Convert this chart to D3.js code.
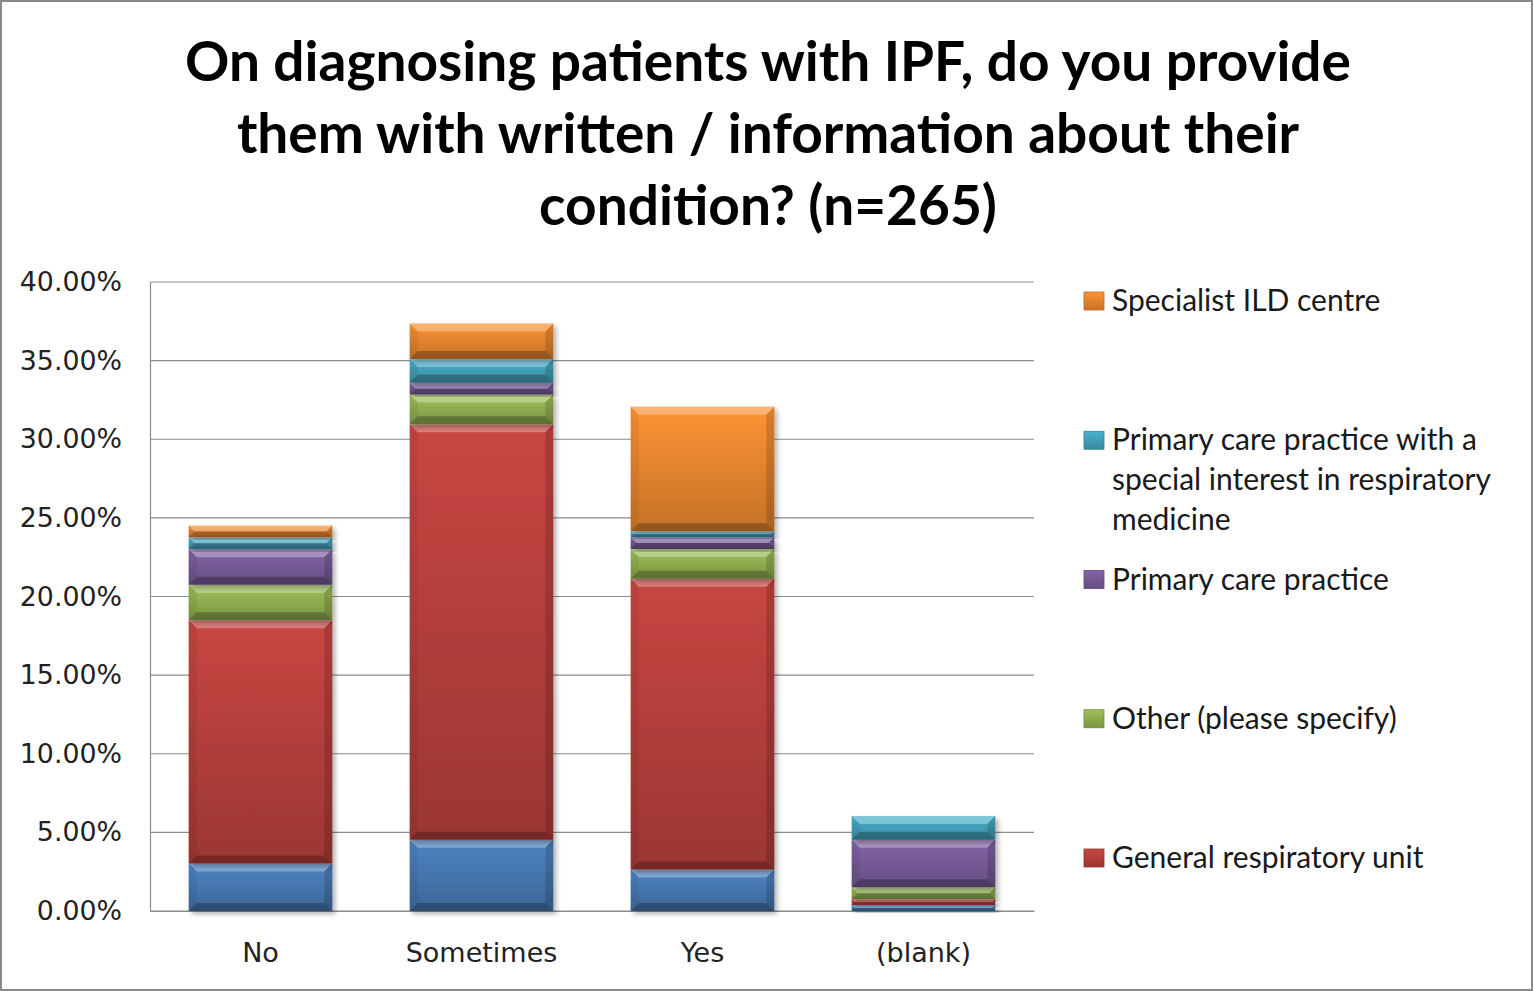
<!DOCTYPE html>
<html>
<head>
<meta charset="utf-8">
<script src="https://cdn.jsdelivr.net/npm/d3@7"></script>
<style>
  body { margin: 0; background: #fff; }
</style>
</head>
<body>
<script>
// Survey responses, % of n=265
let categories = ["No", "Sometimes", "Yes", "(blank)"];
let seriesNames = ["(blank)", "General respiratory unit", "Other (please specify)",
  "Primary care practice", "Primary care practice with a special interest in respiratory medicine",
  "Specialist ILD centre"];
let blankValues = [3.02, 4.53, 2.64, 0.38];
let generalValues = [15.47, 26.42, 18.49, 0.38];
let otherValues = [2.26, 1.89, 1.89, 0.75];
let primaryValues = [2.26, 0.75, 0.75, 3.02];
let primarySpecialValues = [0.75, 1.51, 0.38, 1.51];
let specialistValues = [0.75, 2.26, 7.92, 0];
let yTicks = [0, 5, 10, 15, 20, 25, 30, 35, 40];
let colors = ["#4a7ebb", "#c0433f", "#98b954", "#7d60a0", "#46aac5", "#f38d32"];

// legend shows the top five series (first series is cut off in the original)
let legendNames = seriesNames.slice(1).reverse();
let legendLines = {
  "Primary care practice with a special interest in respiratory medicine":
    ["Primary care practice with a", "special interest in respiratory", "medicine"]
};

let allValues = [blankValues, generalValues, otherValues, primaryValues, primarySpecialValues, specialistValues];
let table = categories.map((c, i) => {
  let row = { category: c };
  seriesNames.forEach((s, j) => (row[s] = allValues[j][i]));
  return row;
});
let stacked = d3.stack().keys(seriesNames)(table);

let width = 1533, height = 991;
let plot = { left: 150, right: 1034, top: 282, bottom: 911 };

let svg = d3.select("body").append("svg")
  .attr("width", width)
  .attr("height", height);

svg.append("rect")
  .attr("x", 1).attr("y", 1)
  .attr("width", width - 2).attr("height", height - 2)
  .style("fill", "#fff")
  .style("stroke", "#8a8a8a")
  .style("stroke-width", 2);

let defs = svg.append("defs");
colors.forEach((c, i) => {
  let g = defs.append("linearGradient")
    .attr("id", "grad" + i)
    .attr("x1", 0).attr("y1", 0).attr("x2", 0).attr("y2", 1);
  g.append("stop").attr("offset", "0%").attr("stop-color", d3.color(c).brighter(0.12));
  g.append("stop").attr("offset", "100%").attr("stop-color", d3.color(c).darker(0.6));
});
let shadow = defs.append("filter").attr("id", "shadow")
  .attr("x", "-10%").attr("y", "-10%").attr("width", "130%").attr("height", "130%");
shadow.append("feDropShadow")
  .attr("dx", 3).attr("dy", 3).attr("stdDeviation", 2.5)
  .attr("flood-color", "#000").attr("flood-opacity", 0.3);

// Title
let titleLines = ["On diagnosing patients with IPF, do you provide",
  "them with written / information about their",
  "condition? (n=265)"];
svg.append("text")
  .attr("text-anchor", "middle")
  .style("font-family", "Lato, 'Open Sans', sans-serif")
  .style("font-weight", "bold")
  .style("font-size", "55px")
  .style("fill", "#000")
  .selectAll("tspan")
  .data(titleLines)
  .join("tspan")
  .attr("x", 768)
  .attr("y", (d, i) => 81 + i * 72)
  .text(d => d);

let x = d3.scaleBand().domain(categories).range([plot.left, plot.right]).paddingInner(0.35).paddingOuter(0.175);
let y = d3.scaleLinear().domain([0, 40]).range([plot.bottom, plot.top]);

// gridlines
svg.append("g")
  .selectAll("line")
  .data(yTicks)
  .join("line")
  .attr("x1", plot.left).attr("x2", plot.right)
  .attr("y1", d => y(d)).attr("y2", d => y(d))
  .style("stroke", "#8c8c8c")
  .style("stroke-width", 1.2);

// y axis
let yAxis = svg.append("g")
  .attr("transform", `translate(${plot.left},0)`)
  .call(d3.axisLeft(y).tickValues(yTicks).tickSize(0).tickPadding(28).tickFormat(d => d.toFixed(2) + "%"));
yAxis.select(".domain").style("stroke", "#8c8c8c").style("stroke-width", 1.2);
yAxis.selectAll("text")
  .style("font-family", "'DejaVu Sans', Verdana, sans-serif")
  .style("font-size", "26.8px")
  .style("fill", "#222");

// x axis
let xAxis = svg.append("g")
  .attr("transform", `translate(0,${plot.bottom})`)
  .call(d3.axisBottom(x).tickSize(0).tickPadding(32));
xAxis.select(".domain").style("stroke", "#8c8c8c").style("stroke-width", 1.2);
xAxis.selectAll("text")
  .style("font-family", "'DejaVu Sans', Verdana, sans-serif")
  .style("font-size", "27px")
  .style("fill", "#222");

// bars
let bars = svg.append("g");
stacked.forEach((layer, si) => {
  layer.forEach((d, ci) => {
    let x0 = x(categories[ci]), x1 = x0 + x.bandwidth();
    let yTop = y(d[1]), yBot = y(d[0]);
    let h = yBot - yTop;
    if (h <= 0) return;
    let g = bars.append("g");
    g.append("rect")
      .attr("x", x0).attr("y", yTop)
      .attr("width", x1 - x0).attr("height", h)
      .style("fill", `url(#grad${si})`)
      .attr("filter", "url(#shadow)");
    let b = Math.min(8, h / 2);
    let bevels = [
      { pts: [[x0, yTop], [x1, yTop], [x1 - b, yTop + b], [x0 + b, yTop + b]], fill: "#fff", op: 0.3 },
      { pts: [[x0, yBot], [x1, yBot], [x1 - b, yBot - b], [x0 + b, yBot - b]], fill: "#000", op: 0.25 },
      { pts: [[x0, yTop], [x0 + b, yTop + b], [x0 + b, yBot - b], [x0, yBot]], fill: "#000", op: 0.06 },
      { pts: [[x1, yTop], [x1 - b, yTop + b], [x1 - b, yBot - b], [x1, yBot]], fill: "#000", op: 0.15 }
    ];
    g.selectAll("polygon")
      .data(bevels)
      .join("polygon")
      .attr("points", p => p.pts.map(q => q.join(",")).join(" "))
      .style("fill", p => p.fill)
      .style("fill-opacity", p => p.op);
  });
});

// legend
let ly = d3.scalePoint().domain(legendNames).range([301, 858]);
let legend = svg.append("g");
legendNames.forEach(name => {
  let si = seriesNames.indexOf(name);
  let cy = ly(name);
  legend.append("rect")
    .attr("x", 1084).attr("y", cy - 9)
    .attr("width", 20).attr("height", 18)
    .style("fill", `url(#grad${si})`)
    .style("stroke", d3.color(colors[si]).darker(0.8))
    .style("stroke-width", 0.8);
  let lines = legendLines[name] || [name];
  legend.append("text")
    .style("font-family", "Lato, 'Open Sans', sans-serif")
    .style("font-size", "30px")
    .style("fill", "#1a1a1a")
    .selectAll("tspan")
    .data(lines)
    .join("tspan")
    .attr("x", 1112)
    .attr("y", (d, i) => cy + 10 + i * 40)
    .text(d => d);
});
</script>
</body>
</html>
